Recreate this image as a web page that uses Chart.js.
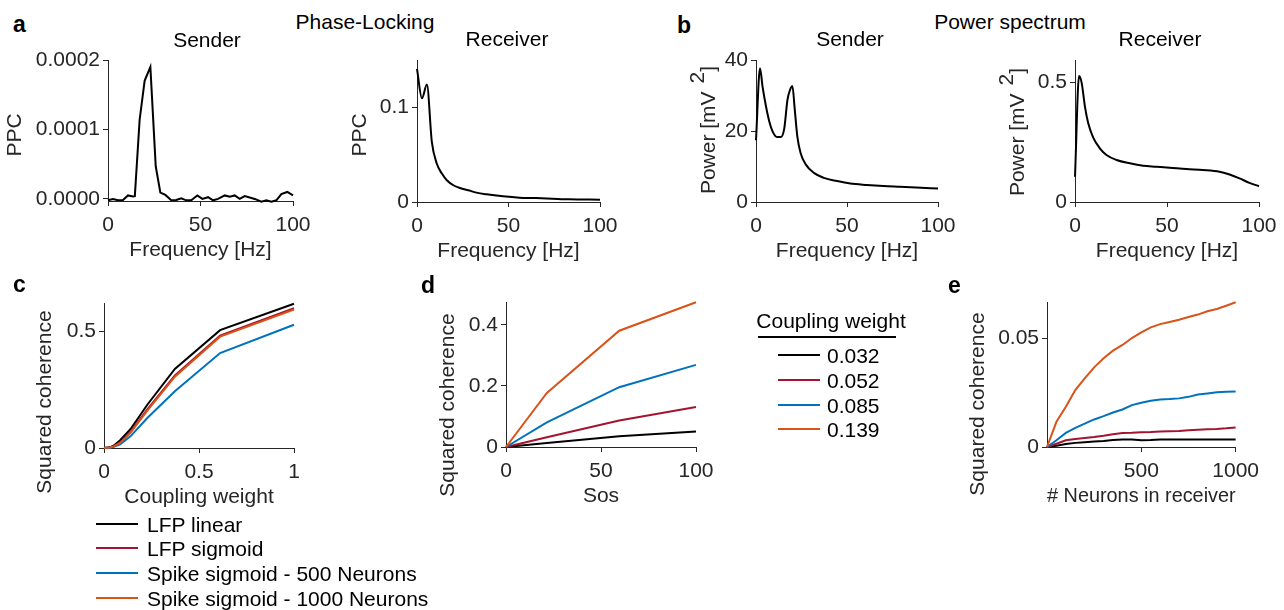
<!DOCTYPE html>
<html>
<head>
<meta charset="utf-8">
<script src="https://cdn.jsdelivr.net/npm/chart.js@4/dist/chart.umd.min.js"></script>
<style>
html, body { margin: 0; padding: 0; background: #fff; }
#fig { position: relative; width: 1284px; height: 610px; overflow: hidden; font-family: 'Liberation Sans', Arial, sans-serif; }
#fig canvas { position: absolute; }
.t { position: absolute; font-size: 21px; line-height: 1; white-space: nowrap; color: #000; transform: translate(-50%, -50%); }
.l { transform: translate(0, -50%); }
.lbl { font-weight: bold; font-size: 23px; }
.ln { position: absolute; height: 2px; }
</style>
</head>
<body>
<div id="fig"></div>
<script>
// a: phase-locking (PPC)
const freqPpcSender = [0, 2.7, 5.4, 8.1, 10.8, 13.5, 14.5, 17.1, 19.8, 22.9, 25.8, 28.3, 31.0, 34.2, 36.9, 39.6, 42.3, 45.0, 48.3, 51.0, 54.1, 56.8, 59.5, 63.1, 65.8, 68.5, 71.2, 73.9, 76.6, 79.3, 82.9, 85.6, 88.3, 91.0, 93.7, 96.9, 100];
const ppcSender = [-0.02e-4, 0, -0.02e-4, -0.015e-4, 0.05e-4, 0.035e-4, 0.04e-4, 1.14e-4, 1.70e-4, 1.90e-4, 0.47e-4, 0.09e-4, 0.058e-4, -0.02e-4, -0.015e-4, 0.01e-4, -0.02e-4, -0.02e-4, 0.05e-4, 0, 0.025e-4, -0.02e-4, 0, 0.05e-4, 0.03e-4, 0.05e-4, 0, 0.04e-4, 0.02e-4, 0, -0.04e-4, -0.02e-4, -0.04e-4, -0.02e-4, 0.07e-4, 0.10e-4, 0.05e-4];
const freqPpcReceiver = [0, 2.7, 5.4, 8.1, 10.8, 13.6, 16.3, 19.9, 23.5, 28, 32.5, 38, 47, 56, 65, 74, 83, 100];
const ppcReceiver = [0.1406, 0.1095, 0.124, 0.0636, 0.0406, 0.030, 0.023, 0.0177, 0.0148, 0.0124, 0.0099, 0.0081, 0.006, 0.0046, 0.0042, 0.0035, 0.0028, 0.0025];

// b: power spectrum
const freqPowSender = [0, 2.2, 3.6, 5.5, 7.3, 9.1, 11.5, 13.6, 15.5, 17.3, 18.7, 20, 21.3, 22.7, 24.5, 27.3, 31.8, 37.3, 44.5, 51.8, 60.9, 70, 79, 88, 100];
const powSender = [17.4, 37.7, 32.5, 26.9, 22.7, 19.9, 18.3, 18.3, 20.6, 28.8, 31.6, 32.7, 26, 18.5, 13.8, 10.6, 8.2, 6.8, 5.9, 5.2, 4.8, 4.5, 4.3, 4.1, 3.8];
const freqPowReceiver = [0, 2.2, 3.6, 5.4, 7.2, 9.9, 13.5, 17.1, 22.6, 29.8, 37, 44.2, 51.4, 60.5, 69.5, 78.5, 84, 89.4, 94.8, 100];
const powReceiver = [0.106, 0.528, 0.5, 0.40, 0.33, 0.27, 0.225, 0.197, 0.176, 0.162, 0.152, 0.148, 0.144, 0.138, 0.134, 0.127, 0.115, 0.099, 0.080, 0.066];

// c: coherence vs coupling weight
const couplingWeights = [0, 0.032, 0.052, 0.085, 0.139, 0.228, 0.373, 0.611, 1];
const cohLfpLinear   = [0, 0.003, 0.011, 0.033, 0.080, 0.185, 0.338, 0.504, 0.617];
const cohLfpSigmoid  = [0, 0.002, 0.008, 0.024, 0.068, 0.165, 0.310, 0.480, 0.598];
const cohSpike500    = [0, 0.001, 0.005, 0.016, 0.050, 0.128, 0.243, 0.406, 0.527];
const cohSpike1000   = [0, 0.002, 0.007, 0.022, 0.065, 0.160, 0.305, 0.476, 0.592];
const seriesNamesC = ['LFP linear', 'LFP sigmoid', 'Spike sigmoid - 500 Neurons', 'Spike sigmoid - 1000 Neurons'];

// d: coherence vs Sos
const sosValues = [0, 21.5, 59.6, 100];
const cohSos032 = [0, 0.013, 0.035, 0.051];
const cohSos052 = [0, 0.032, 0.087, 0.131];
const cohSos085 = [0, 0.081, 0.196, 0.269];
const cohSos139 = [0, 0.177, 0.381, 0.474];
const weightLabels = ['0.032', '0.052', '0.085', '0.139'];

// e: coherence vs neurons in receiver
const nNeurons = [0, 50, 100, 150, 200, 250, 300, 350, 400, 450, 500, 550, 600, 650, 700, 750, 800, 850, 900, 950, 1000];
const cohN032 = [0, 0.0006, 0.0014, 0.0019, 0.0022, 0.0025, 0.0028, 0.0032, 0.0035, 0.0035, 0.0031, 0.0032, 0.0034, 0.0034, 0.0034, 0.0034, 0.0035, 0.0034, 0.0034, 0.0034, 0.0034];
const cohN052 = [0, 0.0015, 0.0031, 0.0037, 0.0042, 0.0046, 0.0052, 0.0059, 0.0065, 0.0066, 0.0068, 0.0069, 0.0071, 0.0073, 0.0074, 0.0077, 0.008, 0.0082, 0.0083, 0.0086, 0.009];
const cohN085 = [0, 0.0031, 0.0065, 0.0088, 0.0108, 0.0127, 0.0142, 0.0159, 0.0173, 0.0193, 0.0204, 0.0213, 0.0219, 0.0221, 0.0224, 0.0231, 0.0242, 0.0247, 0.0252, 0.0255, 0.0256];
const cohN139 = [0, 0.0116, 0.0185, 0.0262, 0.0316, 0.0367, 0.0409, 0.0444, 0.047, 0.0502, 0.0528, 0.0551, 0.0566, 0.0576, 0.0586, 0.0599, 0.061, 0.0625, 0.0636, 0.0651, 0.0667];

// axis ticks
const freqTicks = [0, 50, 100];
const freqTickLabels = ['0', '50', '100'];
const ppcSenderTicks = [0, 0.0001, 0.0002];
const ppcSenderLabels = ['0.0000', '0.0001', '0.0002'];
const ppcReceiverTicks = [0, 0.1];
const ppcReceiverLabels = ['0', '0.1'];
const powSenderTicks = [0, 20, 40];
const powSenderLabels = ['0', '20', '40'];
const powReceiverTicks = [0, 0.5];
const powReceiverLabels = ['0', '0.5'];
const weightTicks = [0, 0.5, 1];
const weightTickLabels = ['0', '0.5', '1'];
const cohCTicks = [0, 0.5];
const cohCLabels = ['0', '0.5'];
const cohDTicks = [0, 0.2, 0.4];
const cohDLabels = ['0', '0.2', '0.4'];
const neuronTicks = [500, 1000];
const neuronTickLabels = ['500', '1000'];
const cohETicks = [0, 0.05];
const cohELabels = ['0', '0.05'];

const colors = ['#000000', '#A2142F', '#0072BD', '#D95319'];
const AX = '#262626';
const FONT = "'Liberation Sans', Arial, sans-serif";
const fig = document.getElementById('fig');

function axis(s, title, size, dir) {
  return {
    type: 'linear', min: s.min, max: s.max,
    afterBuildTicks: sc => { sc.ticks = s.ticks.map(v => ({ value: v })); },
    afterFit: sc => { if (dir === 'x') sc.height = size; else sc.width = size; },
    ticks: {
      color: AX, font: { family: FONT, size: 21 }, padding: dir === 'x' ? 7 : 3,
      autoSkip: false, maxRotation: 0,
      callback: v => s.labels[s.ticks.indexOf(v)]
    },
    grid: { drawOnChartArea: false, drawTicks: true, tickLength: 5, color: AX, lineWidth: 1 },
    border: { display: true, color: AX, width: 1 },
    title: { display: !!title, text: title, color: AX, font: { family: FONT, size: 21 }, padding: 0 }
  };
}

function series(xs, ys, i, smooth) {
  return {
    data: xs.map((x, k) => ({ x, y: ys[k] })),
    borderColor: colors[i], borderWidth: 2, pointRadius: 0, fill: false,
    tension: 0, cubicInterpolationMode: smooth ? 'monotone' : 'default',
    order: 3 - i, clip: false
  };
}

// y titles are drawn by hand so that long ones are not squeezed to the axis height
function yTitlePlugin(yt, left, top) {
  return {
    id: 'yTitle',
    afterDraw(chart) {
      const ctx = chart.ctx;
      ctx.save();
      ctx.font = '21px ' + FONT;
      ctx.fillStyle = AX;
      ctx.textBaseline = 'middle';
      ctx.textAlign = 'left';
      ctx.translate(yt.cx - left, yt.cy - top);
      ctx.rotate(-Math.PI / 2);
      if (yt.power) {
        const p1 = 'Power [mV', p2 = '2', p3 = ']';
        const w1 = ctx.measureText(p1).width, w2 = ctx.measureText(p2).width, w3 = ctx.measureText(p3).width;
        const gap = 8;
        let s = -(w1 + gap + w2 + w3) / 2;
        ctx.fillText(p1, s, 0); s += w1 + gap;
        ctx.fillText(p2, s, -11); s += w2;
        ctx.fillText(p3, s, 0);
      } else {
        ctx.textAlign = 'center';
        ctx.fillText(yt.text, 0, 0);
      }
      ctx.restore();
    }
  };
}

function panel(rect, W, datasets, xs, ys, xTitle, yt) {
  const [L, T, R, B] = rect;
  const padT = 16, padR = 30, H = 62;
  const cv = document.createElement('canvas');
  cv.width = R - L + W + padR;
  cv.height = B - T + padT + H + 60;
  const left = L - W, top = T - padT;
  cv.style.left = left + 'px';
  cv.style.top = top + 'px';
  fig.appendChild(cv);
  new Chart(cv, {
    type: 'line',
    data: { datasets },
    options: {
      responsive: false, animation: false, events: [],
      layout: { padding: { top: padT, right: padR, left: 0, bottom: 60 } },
      plugins: { legend: { display: false }, tooltip: { enabled: false } },
      scales: { x: axis(xs, xTitle, H, 'x'), y: axis(ys, '', W, 'y') }
    },
    plugins: [yTitlePlugin(yt, left, top)]
  });
}

const freqAxis = { min: 0, max: 100, ticks: freqTicks, labels: freqTickLabels };

panel([108, 60, 293, 201], 106, [series(freqPpcSender, ppcSender, 0)], freqAxis,
  { min: -0.000003, max: 0.0002, ticks: ppcSenderTicks, labels: ppcSenderLabels }, 'Frequency [Hz]',
  { text: 'PPC', cx: 15, cy: 135 });
panel([417, 60, 600, 202], 70, [series(freqPpcReceiver, ppcReceiver, 0, true)], freqAxis,
  { min: 0, max: 0.15, ticks: ppcReceiverTicks, labels: ppcReceiverLabels }, 'Frequency [Hz]',
  { text: 'PPC', cx: 360, cy: 135 });
panel([756, 60, 938, 202], 80, [series(freqPowSender, powSender, 0, true)], freqAxis,
  { min: 0, max: 40, ticks: powSenderTicks, labels: powSenderLabels }, 'Frequency [Hz]',
  { power: true, cx: 709, cy: 130 });
panel([1075, 60, 1259, 202], 80, [series(freqPowReceiver, powReceiver, 0, true)], freqAxis,
  { min: 0, max: 0.595, ticks: powReceiverTicks, labels: powReceiverLabels }, 'Frequency [Hz]',
  { power: true, cx: 1018, cy: 132 });

panel([104, 303, 294, 448], 72,
  [cohLfpLinear, cohLfpSigmoid, cohSpike500, cohSpike1000].map((v, i) => series(couplingWeights, v, i)),
  { min: 0, max: 1, ticks: weightTicks, labels: weightTickLabels },
  { min: 0, max: 0.62, ticks: cohCTicks, labels: cohCLabels }, 'Coupling weight',
  { text: 'Squared coherence', cx: 45, cy: 402 });
panel([506, 302, 696, 447], 71,
  [cohSos032, cohSos052, cohSos085, cohSos139].map((v, i) => series(sosValues, v, i)),
  freqAxis,
  { min: 0, max: 0.475, ticks: cohDTicks, labels: cohDLabels }, 'Sos',
  { text: 'Squared coherence', cx: 448, cy: 405 });
panel([1047, 302, 1236, 447], 82,
  [cohN032, cohN052, cohN085, cohN139].map((v, i) => series(nNeurons, v, i)),
  { min: 0, max: 1000, ticks: neuronTicks, labels: neuronTickLabels },
  { min: 0, max: 0.0668, ticks: cohETicks, labels: cohELabels }, '# Neurons in receiver',
  { text: 'Squared coherence', cx: 978, cy: 404 });

// free text
function text(str, x, y, cls) {
  const d = document.createElement('div');
  d.className = 't' + (cls ? ' ' + cls : '');
  d.textContent = str;
  d.style.left = x + 'px';
  d.style.top = y + 'px';
  fig.appendChild(d);
}
function line(x, y, w, color, h) {
  const d = document.createElement('div');
  d.className = 'ln';
  d.style.left = x + 'px';
  d.style.top = (y - (h || 2) / 2) + 'px';
  d.style.width = w + 'px';
  d.style.height = (h || 2) + 'px';
  d.style.background = color;
  fig.appendChild(d);
}

text('a', 13, 24, 'lbl l');
text('b', 677, 25, 'lbl l');
text('c', 13, 284, 'lbl l');
text('d', 421, 285, 'lbl l');
text('e', 948, 285, 'lbl l');
text('Phase-Locking', 365, 21);
text('Power spectrum', 1010, 21);
text('Sender', 207, 39);
text('Receiver', 507, 38);
text('Sender', 850, 38);
text('Receiver', 1160, 38);

// legend c
[524, 548, 573, 598].forEach((y, i) => {
  line(96, y, 42, colors[i]);
  text(seriesNamesC[i], 147, y, 'l');
});

// legend d
text('Coupling weight', 831, 320);
line(758, 337, 138, '#000', 1.5);
[355, 380, 405, 429].forEach((y, i) => {
  line(778, y, 42, colors[i]);
  text(weightLabels[i], 827, y, 'l');
});
</script>
</body>
</html>
